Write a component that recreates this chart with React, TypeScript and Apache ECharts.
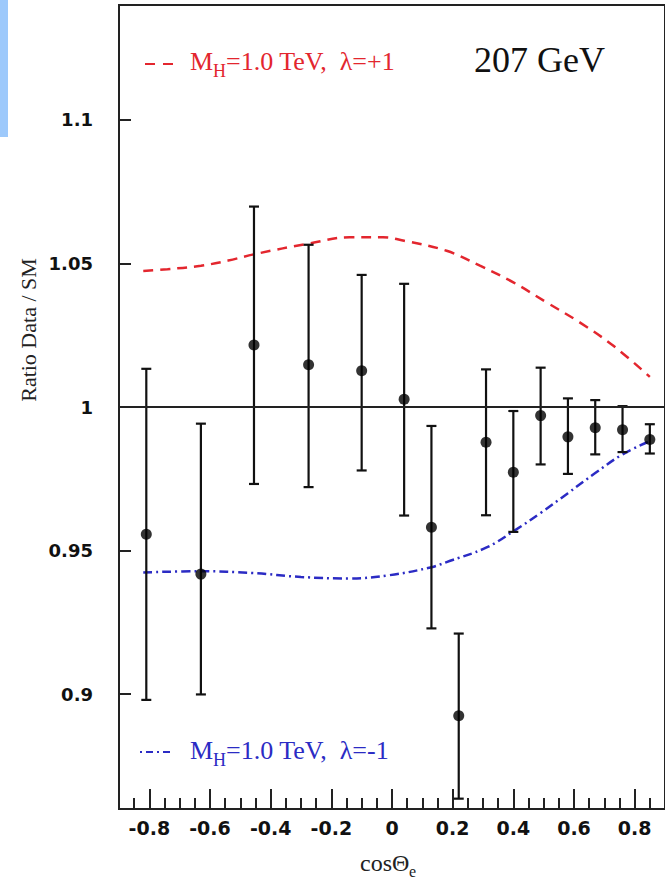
import React, { useEffect, useRef } from "react";
import * as echarts from "echarts";

// Measured ratio Data / SM per cos(theta_e) bin
const binCos = [-0.81, -0.63, -0.455, -0.275, -0.1, 0.04, 0.13, 0.22, 0.31, 0.4, 0.49, 0.58, 0.67, 0.76, 0.85];
const ratio = [0.9557, 0.9418, 1.0216, 1.0147, 1.0126, 1.0027, 0.9581, 0.8925, 0.9877, 0.9773, 0.997, 0.9896, 0.9928, 0.9921, 0.9887];
const errLow = [0.898, 0.8999, 0.9732, 0.9721, 0.9779, 0.9622, 0.9229, 0.8636, 0.9623, 0.9565, 0.98, 0.9767, 0.9835, 0.9843, 0.9838];
const errHigh = [1.0133, 0.9942, 1.0698, 1.0565, 1.046, 1.0429, 0.9934, 0.9211, 1.0131, 0.9986, 1.0137, 1.003, 1.0024, 1.0003, 0.994];

// Model curve: M_H = 1.0 TeV, lambda = +1
const plusCos = [-0.82, -0.74, -0.63, -0.54, -0.45, -0.27, -0.14, -0.03, 0.04, 0.18, 0.29, 0.4, 0.51, 0.62, 0.73, 0.85];
const plusRatio = [1.0474, 1.048, 1.0492, 1.051, 1.0533, 1.057, 1.0591, 1.0591, 1.0579, 1.0544, 1.0492, 1.0434, 1.0364, 1.0294, 1.0213, 1.0105];

// Model curve: M_H = 1.0 TeV, lambda = -1
const minusCos = [-0.82, -0.63, -0.46, -0.3, -0.14, -0.01, 0.13, 0.18, 0.31, 0.4, 0.49, 0.58, 0.67, 0.76, 0.85];
const minusRatio = [0.9424, 0.9428, 0.9422, 0.9408, 0.9403, 0.9414, 0.9442, 0.946, 0.951, 0.9567, 0.9631, 0.97, 0.977, 0.9835, 0.9881];

const legendPlus = "=1.0 TeV,  λ=+1";
const legendMinus = "=1.0 TeV,  λ=-1";
const energyLabel = "207 GeV";
const yTitle = "Ratio Data / SM";

const RED = "#e3262e";
const BLUE = "#2b2bc4";
const INK = "#111";

export default function App() {
  const ref = useRef<HTMLDivElement>(null);
  useEffect(() => {
    if (!ref.current) return;
    const chart = echarts.init(ref.current, null, { renderer: "svg" });
    const serif = "'Liberation Serif', 'Times New Roman', serif";
    const sans = "'DejaVu Sans', sans-serif";
    const option: any = {
      animation: false,
      backgroundColor: "#fff",
      grid: {
        left: 119,
        top: 5,
        width: 550,
        height: 804,
        show: true,
        borderColor: "#222",
        borderWidth: 2,
      },
      xAxis: {
        type: "value",
        min: -0.9,
        max: 0.9,
        splitNumber: 9,
        axisLine: { show: true, onZero: false, lineStyle: { color: "#222", width: 2 } },
        axisTick: { show: true, inside: true, length: 20, lineStyle: { color: "#222", width: 2 } },
        minorTick: { show: true, splitNumber: 4, length: 11, lineStyle: { color: "#222", width: 2 } },
        splitLine: { show: false },
        axisLabel: {
          showMinLabel: false,
          showMaxLabel: false,
          margin: 9,
          color: INK,
          fontFamily: sans,
          fontWeight: "bold",
          fontSize: 19,
        },
      },
      yAxis: {
        type: "value",
        min: 0.86,
        max: 1.14,
        splitNumber: 6,
        axisLine: { show: true, onZero: false, lineStyle: { color: "#222", width: 2 } },
        axisTick: { show: true, inside: true, length: 12, lineStyle: { color: "#222", width: 2 } },
        splitLine: { show: false },
        axisLabel: {
          showMinLabel: false,
          showMaxLabel: false,
          margin: 26,
          color: INK,
          fontFamily: sans,
          fontWeight: "bold",
          fontSize: 18,
        },
      },
      graphic: [
        { type: "rect", left: 0, top: 0, shape: { width: 8, height: 137 }, style: { fill: "#9dc9fb" } },
        {
          type: "text",
          x: 28,
          y: 330,
          rotation: Math.PI / 2,
          style: { text: yTitle, font: `22px ${serif}`, fill: "#222", align: "center", verticalAlign: "middle" },
        },
        { type: "text", x: 360, y: 863, style: { text: "cosΘ", font: `24px ${serif}`, fill: "#222", align: "left", verticalAlign: "middle" } },
        { type: "text", x: 409, y: 871, style: { text: "e", font: `16px ${serif}`, fill: "#222", align: "left", verticalAlign: "middle" } },
        // legend +1
        { type: "line", shape: { x1: 145, y1: 64, x2: 175, y2: 64 }, style: { stroke: RED, lineWidth: 2, lineDash: [10, 8] } },
        { type: "text", x: 190, y: 61, style: { text: "M", font: `26px ${serif}`, fill: RED, verticalAlign: "middle" } },
        { type: "text", x: 213, y: 71, style: { text: "H", font: `18px ${serif}`, fill: RED, verticalAlign: "middle" } },
        { type: "text", x: 226, y: 61, style: { text: legendPlus, font: `26px ${serif}`, fill: RED, verticalAlign: "middle" } },
        { type: "text", x: 474, y: 60, style: { text: energyLabel, font: `36px ${serif}`, fill: INK, verticalAlign: "middle" } },
        // legend -1
        { type: "line", shape: { x1: 140, y1: 752, x2: 170, y2: 752 }, style: { stroke: BLUE, lineWidth: 2, lineDash: [2, 4, 7, 4] } },
        { type: "text", x: 190, y: 750, style: { text: "M", font: `26px ${serif}`, fill: BLUE, verticalAlign: "middle" } },
        { type: "text", x: 213, y: 760, style: { text: "H", font: `18px ${serif}`, fill: BLUE, verticalAlign: "middle" } },
        { type: "text", x: 226, y: 750, style: { text: legendMinus, font: `26px ${serif}`, fill: BLUE, verticalAlign: "middle" } },
      ],
      series: [
        {
          type: "line",
          data: plusCos.map((c, i) => [c, plusRatio[i]]),
          smooth: 0.4,
          showSymbol: false,
          symbol: "none",
          lineStyle: { color: RED, width: 2.5, type: [10, 7] },
          z: 3,
        },
        {
          type: "line",
          data: minusCos.map((c, i) => [c, minusRatio[i]]),
          smooth: 0.4,
          showSymbol: false,
          symbol: "none",
          lineStyle: { color: BLUE, width: 2.5, type: [9, 4, 2, 4] },
          z: 3,
        },
        {
          type: "custom",
          data: binCos.map((c, i) => [c, errLow[i], errHigh[i]]),
          encode: { x: 0, y: [1, 2] },
          renderItem: (params: any, api: any) => {
            const x = api.value(0);
            const top = api.coord([x, api.value(2)]);
            const bot = api.coord([x, api.value(1)]);
            const w = 5;
            const style = { stroke: INK, lineWidth: 2.2 };
            return {
              type: "group",
              children: [
                { type: "line", shape: { x1: top[0], y1: top[1], x2: bot[0], y2: bot[1] }, style },
                { type: "line", shape: { x1: top[0] - w, y1: top[1], x2: top[0] + w, y2: top[1] }, style },
                { type: "line", shape: { x1: bot[0] - w, y1: bot[1], x2: bot[0] + w, y2: bot[1] }, style },
              ],
            };
          },
          z: 4,
        },
        {
          type: "scatter",
          data: binCos.map((c, i) => [c, ratio[i]]),
          symbol: "circle",
          symbolSize: 11,
          itemStyle: { color: "#000" },
          z: 5,
          markLine: {
            silent: true,
            symbol: "none",
            label: { show: false },
            lineStyle: { color: "#222", width: 2, type: "solid" },
            data: [{ yAxis: 1 }],
          },
        },
      ],
    };
    chart.setOption(option);
    return () => chart.dispose();
  }, []);
  return <div ref={ref} style={{ position: "absolute", left: 0, top: 0, width: 665, height: 882 }} />;
}
